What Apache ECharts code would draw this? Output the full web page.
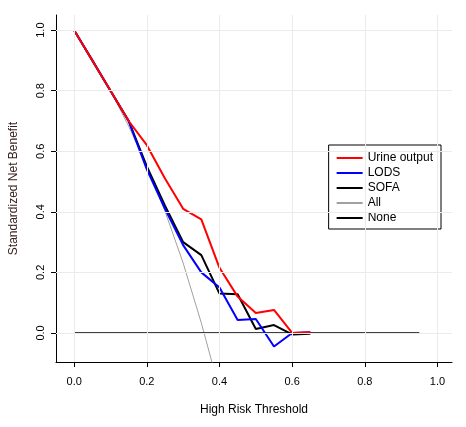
<!DOCTYPE html><html><head><meta charset="utf-8"><script src="https://cdn.jsdelivr.net/npm/echarts@6/dist/echarts.min.js"></script></head><body style="margin:0"><div id="c" style="width:466px;height:427px"></div><script>
const thr=[0,0.05,0.1,0.15,0.2,0.25,0.3,0.35,0.4,0.45,0.5,0.55,0.6,0.65];
const urine=[1,0.9,0.8,0.7,0.62,0.51,0.41,0.375,0.215,0.12,0.066,0.076,0,0.002];
const lods=[1,0.9,0.8,0.7,0.54,0.41,0.29,0.2,0.15,0.043,0.046,-0.045,0,0.002];
const sofa=[1,0.9,0.8,0.7,0.55,0.42,0.3,0.257,0.13,0.128,0.013,0.026,-0.005,-0.003];
const allX=[0,0.05,0.1,0.15,0.2,0.25,0.3,0.35,0.38];
const allY=[1,0.906,0.80,0.683,0.551,0.402,0.231,0.033,-0.1];
const noneX=[0,0.95], noneY=[0,0];
const ticks=[0,0.2,0.4,0.6,0.8,1.0];
const z=(xs,ys)=>xs.map((x,i)=>[x,ys[i]]);
const gl={silent:true,symbol:'none',label:{show:false},lineStyle:{color:'#ebebeb',type:'solid',width:1},data:[...ticks.map(t=>({xAxis:t})),...ticks.map(t=>({yAxis:t}))]};
const f='Liberation Sans, Arial';
echarts.init(document.getElementById('c')).setOption({animation:false,
grid:{left:55,right:14,top:15,bottom:65},
xAxis:{type:'value',min:-0.05,max:1.04,splitLine:{show:false},axisLine:{onZero:false,lineStyle:{color:'#000'}},
 axisTick:{customValues:ticks,length:5,lineStyle:{color:'#000'}},axisLabel:{customValues:ticks,formatter:v=>v.toFixed(1),color:'#000',fontFamily:f,fontSize:11,margin:14},
 name:'High Risk Threshold',nameLocation:'middle',nameGap:42,nameTextStyle:{color:'#000',fontFamily:f,fontSize:12}},
yAxis:{type:'value',min:-0.096,max:1.05,splitLine:{show:false},axisLine:{onZero:false,lineStyle:{color:'#000'}},
 axisTick:{customValues:ticks,length:5,lineStyle:{color:'#000'}},axisLabel:{customValues:ticks,formatter:v=>v.toFixed(1),rotate:90,color:'#000',fontFamily:f,fontSize:11,margin:10},
 name:'Standardized Net Benefit',nameLocation:'middle',nameGap:36,nameTextStyle:{color:'#3a2020',fontFamily:f,fontSize:12}},
legend:{right:25,top:145,orient:'vertical',itemWidth:26,itemHeight:2,itemGap:3,padding:[7,8,5,8],backgroundColor:'#fff',borderColor:'#000',borderWidth:1,borderRadius:0,icon:'rect',
 textStyle:{fontFamily:f,fontSize:12,color:'#000'},data:['Urine output','LODS','SOFA','All','None']},
series:[
{type:'line',name:'grid',data:[],markLine:gl,silent:true},
{type:'line',name:'All',data:z(allX,allY),symbol:'none',lineStyle:{color:'#a0a0a0',width:1},itemStyle:{color:'#a0a0a0'}},
{type:'line',name:'None',data:z(noneX,noneY),symbol:'none',lineStyle:{color:'#000',width:1.3},itemStyle:{color:'#000'}},
{type:'line',name:'SOFA',data:z(thr,sofa),symbol:'none',lineStyle:{color:'#000',width:2},itemStyle:{color:'#000'}},
{type:'line',name:'LODS',data:z(thr,lods),symbol:'none',lineStyle:{color:'#0000ff',width:2},itemStyle:{color:'#0000ff'}},
{type:'line',name:'Urine output',data:z(thr,urine),symbol:'none',lineStyle:{color:'#ff0000',width:2},itemStyle:{color:'#ff0000'}}
]});
</script></body></html>
